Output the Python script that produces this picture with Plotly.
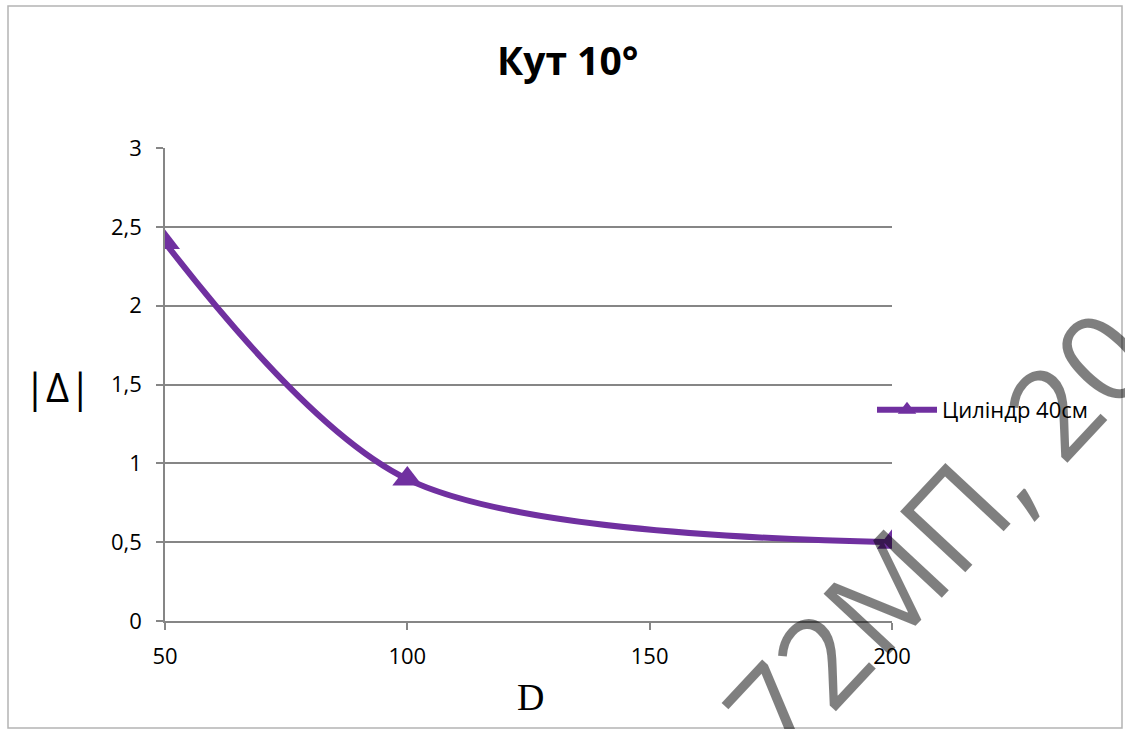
import plotly.graph_objects as go

# Data
d_values = [50, 100, 200]
delta_values = [2.4, 0.9, 0.5]
series_name = "Циліндр 40см"
chart_title = "Кут 10°"
x_ticks = [50, 100, 150, 200]
y_ticks = [0, 0.5, 1, 1.5, 2, 2.5, 3]
watermark = "72МП, 20"

W, H = 1125, 729
L, R, T, B = 165, 892, 148, 621  # plot area in px

def px_x(px):
    return (px - L) / (R - L)

def px_y(py):
    return (B - py) / (B - T)

purple = "#7030A0"
grid = "#868686"
font_family = "Open Sans, Noto Sans, Liberation Sans, sans-serif"

fig = go.Figure()
fig.add_trace(go.Scatter(
    x=d_values, y=delta_values, name=series_name,
    mode="lines+markers",
    line=dict(color=purple, width=6, shape="spline", smoothing=0.9),
    marker=dict(symbol="triangle-up", size=26, color=purple),
))

fig.update_layout(
    width=W, height=H,
    margin=dict(l=L, r=W - R, t=T, b=H - B),
    paper_bgcolor="white", plot_bgcolor="white",
    separators=", ",
    font=dict(family=font_family, size=22, color="black"),
    showlegend=True,
    legend=dict(
        x=px_x(872), y=px_y(410), xanchor="left", yanchor="middle",
        font=dict(size=22, color="black"),
        bgcolor="rgba(0,0,0,0)", itemwidth=60, tracegroupgap=0,
    ),
    xaxis=dict(
        range=[50, 200], tickvals=x_ticks, showgrid=False, zeroline=False,
        showline=True, linecolor=grid, linewidth=1.5,
        ticks="outside", ticklen=7, tickcolor=grid, tickwidth=1.5,
        ticklabelstandoff=8, tickfont=dict(size=22),
    ),
    yaxis=dict(
        range=[0, 3], tickvals=y_ticks, showgrid=True, gridcolor=grid, gridwidth=1.5,
        zeroline=False, showline=True, linecolor=grid, linewidth=1.5,
        ticks="outside", ticklen=7, tickcolor=grid, tickwidth=1.5,
        ticklabelstandoff=10, tickfont=dict(size=22),
    ),
    annotations=[
        dict(text=chart_title, xref="paper", yref="paper", x=px_x(567), y=px_y(60),
             xanchor="center", yanchor="middle", showarrow=False,
             font=dict(size=39, family=font_family, weight="bold", color="black")),
        dict(text="|Δ|", xref="paper", yref="paper", x=px_x(57), y=px_y(386),
             xanchor="center", yanchor="middle", showarrow=False,
             font=dict(size=40, family=font_family, color="black")),
        dict(text="D", xref="paper", yref="paper", x=px_x(530), y=px_y(697),
             xanchor="center", yanchor="middle", showarrow=False,
             font=dict(size=38, family="Liberation Serif, DejaVu Serif, serif", color="black")),
        dict(text=watermark, xref="paper", yref="paper", x=px_x(936), y=px_y(532),
             xanchor="center", yanchor="middle", showarrow=False, textangle=-47,
             font=dict(size=125, family=font_family, weight=500, color="rgba(0,0,0,0.5)")),
    ],
    shapes=[
        dict(type="rect", xref="paper", yref="paper",
             x0=px_x(8), x1=px_x(1122), y0=px_y(728), y1=px_y(6),
             line=dict(color="#b4b4b4", width=1.5), layer="below"),
    ],
)

fig.write_html("out.html")
